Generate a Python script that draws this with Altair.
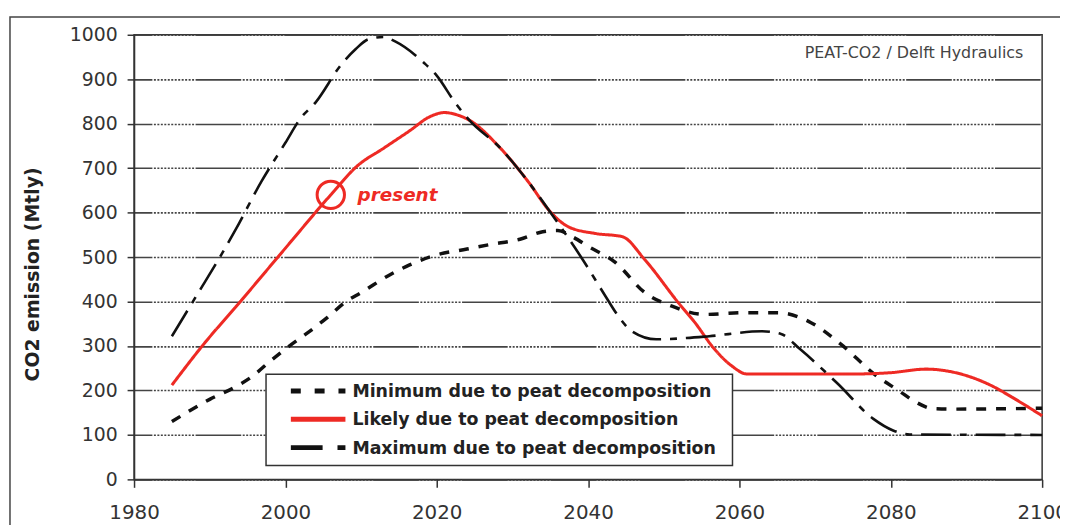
import altair as alt
import pandas as pd

# ---------------- data ----------------
series_order = [
    "Minimum due to peat decomposition",
    "Likely due to peat decomposition",
    "Maximum due to peat decomposition",
]

min_years = [1985, 1990, 1993.4, 1995.5, 1998, 2000.3, 2003.2, 2005.6, 2008, 2010, 2014, 2016,
             2020, 2024, 2027, 2031, 2034, 2036, 2038, 2040, 2043.6, 2047.5, 2051, 2055.4,
             2060.7, 2065, 2069.4, 2073.4, 2078.1, 2081, 2083.3, 2085.6, 2088, 2100]
min_values = [130, 180, 208, 230, 266, 297, 333, 365, 400, 420, 462, 479,
              505, 518, 528, 540, 557, 560, 545, 524, 488, 420, 390, 371,
              375, 375, 353, 304, 233, 200, 174, 159, 158, 160]

likely_years = [1985, 1989.2, 1993.8, 2000, 2006, 2009.5, 2013, 2016.5, 2019, 2021, 2023,
                2024.3, 2028.3, 2032.2, 2034.8, 2037.4, 2041, 2044.5, 2047.5, 2051.9, 2054.1,
                2056.7, 2059, 2061, 2075, 2080, 2084.7, 2088, 2093.4, 2096, 2100]
likely_values = [212, 304, 395, 520, 640, 705, 745, 785, 815, 825, 818,
                 808, 747, 667, 606, 568, 553, 546, 494, 398, 353,
                 293, 255, 237, 237, 240, 248, 242, 210, 185, 143]

max_years = [1985, 1988.5, 1991, 1993.4, 1996.8, 2000, 2002, 2004, 2007.3, 2009.3, 2011,
             2013, 2014.5, 2018.3, 2020, 2022.4, 2024.3, 2028.3, 2032.2, 2034.8, 2036.7,
             2039.3, 2042.3, 2044, 2045.8, 2049, 2053, 2056, 2063, 2065.5, 2068, 2073,
             2077.7, 2080.3, 2082.5, 2100]
max_values = [322, 420, 490, 561, 669, 757, 812, 848, 931, 968, 990,
              995, 985, 937, 908, 848, 808, 747, 667, 606, 560,
              494, 412, 367, 333, 315, 318, 322, 333, 327, 293, 215,
              136, 110, 101, 100]

present_year = [2006]
present_value = [640]
present_label = ["present"]

x_ticks = [1980, 2000, 2020, 2040, 2060, 2080, 2100]
y_ticks = [0, 100, 200, 300, 400, 500, 600, 700, 800, 900, 1000]

source_note = "PEAT-CO2 / Delft Hydraulics"
y_title = "CO2 emission (Mtly)"

RED = "#ee2a24"
FONT = "DejaVu Sans"

series_colors = ["#111111", RED, "#111111"]
series_dash = [[10, 10], [1, 0], [30, 9, 7, 9]]
series_width = [3.5, 2.6, 4]
legend_dash = [[10, 14], [1, 0], [32, 15, 8, 15]]

# ---------------- build tables ----------------
rows = []
for name, ys, vs in zip(series_order,
                        [min_years, likely_years, max_years],
                        [min_values, likely_values, max_values]):
    for y, v in zip(ys, vs):
        rows.append({"series": name, "year": y, "value": v})
df = pd.DataFrame(rows)
present_df = pd.DataFrame({"year": present_year, "value": present_value, "label": present_label})
one = pd.DataFrame({"a": [0]})

x_enc = alt.X("year:Q",
              scale=alt.Scale(domain=[1980, 2100], nice=False, zero=False),
              axis=alt.Axis(values=x_ticks, title=None, grid=False, format="d",
                            labelFlush=False, labelOverlap=False,
                            labelFontSize=20, tickSize=8, labelPadding=15))
y_enc = alt.Y("value:Q",
              scale=alt.Scale(domain=[0, 1000], nice=False),
              axis=alt.Axis(values=y_ticks, title=y_title, grid=True, format="d",
                            labelFlush=False, labelOverlap=False,
                            labelFontSize=19, tickSize=7, labelPadding=10,
                            titleFont=FONT, titleFontSize=19, titleFontWeight="bold",
                            titleColor="#222", titleAngle=270, titleAlign="center",
                            titleBaseline="middle", titleX=-102, titleY=241))

frame = alt.Chart(one).mark_rect(fill=None, fillOpacity=0, stroke="#444", strokeWidth=1.5).encode(
    x=alt.value(-125), x2=alt.value(945), y=alt.value(-18), y2=alt.value(505))

lines = alt.Chart(df).mark_line(interpolate="monotone").encode(
    x=x_enc,
    y=y_enc,
    color=alt.Color("series:N",
                    scale=alt.Scale(domain=series_order, range=series_colors),
                    legend=None),
    strokeDash=alt.StrokeDash("series:N",
                              scale=alt.Scale(domain=series_order, range=series_dash),
                              legend=None),
    strokeWidth=alt.StrokeWidth("series:N",
                                scale=alt.Scale(domain=series_order, range=series_width),
                                legend=None),
)

# ---------------- hand-made legend (box, symbols, labels) ----------------
legend_box = alt.Chart(one).mark_rect(fill="white", stroke="#333", strokeWidth=1.5).encode(
    x=alt.value(133), x2=alt.value(603), y=alt.value(342), y2=alt.value(434))

legend_layers = []
for i, name in enumerate(series_order):
    row_y = 359 + i * 28.5
    ldf = pd.DataFrame({"series": [name]})
    sym = alt.Chart(ldf).mark_rule(color=series_colors[i], strokeDash=legend_dash[i],
                                   strokeWidth=5, strokeCap="butt").encode(
        x=alt.value(158), x2=alt.value(213), y=alt.value(row_y))
    lab = alt.Chart(ldf).mark_text(align="left", baseline="middle", font=FONT, fontSize=17.5,
                                   fontWeight="bold", color="#222").encode(
        x=alt.value(220), y=alt.value(row_y + 1), text="series:N")
    legend_layers += [sym, lab]

circle = alt.Chart(present_df).mark_point(shape="circle", filled=False, size=760,
                                          strokeWidth=3, color=RED, opacity=1).encode(
    x="year:Q", y="value:Q")

present_text = alt.Chart(present_df).mark_text(
    align="left", baseline="middle", dx=27, dy=0, font=FONT, fontSize=18.5,
    fontStyle="italic", fontWeight="bold", color=RED).encode(
    x="year:Q", y="value:Q", text="label:N")

note = alt.Chart(one).mark_text(align="right", baseline="middle", font=FONT, fontSize=16,
                                color="#444").encode(
    x=alt.value(896), y=alt.value(18), text=alt.value(source_note))

grid_dash = [46, 1.5] + [2, 1.5] * 12

chart = alt.layer(frame, lines, legend_box, *legend_layers, circle, present_text, note).properties(
    width=915, height=448,
    autosize=alt.AutoSizeParams(type="none"),
    padding={"left": 127, "top": 25, "right": 18, "bottom": 44},
    background="white",
).configure_view(
    stroke="#333", strokeWidth=1.5
).configure_axis(
    labelFont=FONT, labelColor="#333", domainColor="#333", domainWidth=1.5,
    tickColor="#333", tickWidth=1.5, gridColor="#444", gridWidth=1.6,
    gridDash=grid_dash, gridDashOffset=28,
)

chart.save("out.html", embed_options={"renderer": "svg", "actions": False})
